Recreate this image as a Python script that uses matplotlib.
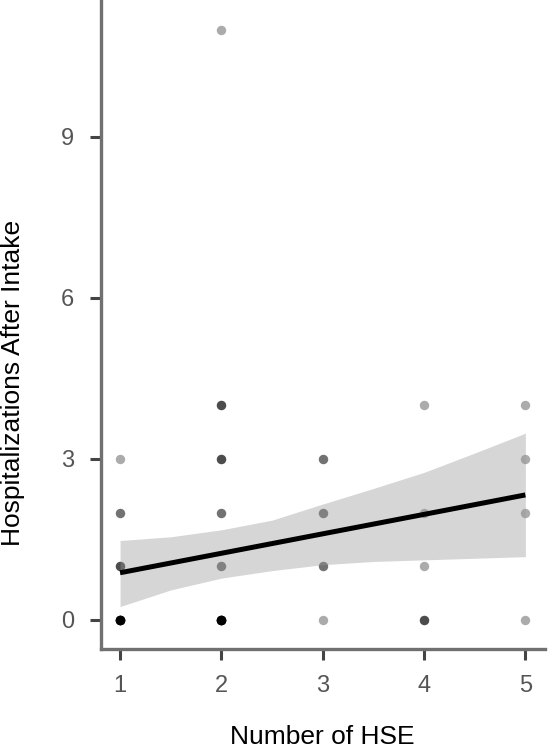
import matplotlib
matplotlib.use("Agg")
import matplotlib.pyplot as plt
import numpy as np

plt.rcParams['font.family'] = ['Liberation Sans', 'DejaVu Sans']

# Data: (HSE, hospitalizations) pairs and how many subjects share each pair
hse_x   = [1, 1, 1, 1,  2, 2, 2, 2, 2, 2,  3, 3, 3, 3,  4, 4, 4, 4,  5, 5, 5, 5]
hosp_y  = [0, 1, 2, 3,  0, 1, 2, 3, 4, 11, 0, 1, 2, 3,  0, 1, 2, 4,  0, 2, 3, 4]
n_cases = [12, 3, 2, 1, 12, 2, 2, 3, 3, 1,  1, 2, 2, 2,  3, 1, 1, 1,  1, 1, 1, 1]

# Linear fit and its confidence band
fit_x = [1, 5]
fit_y = [0.88, 2.33]
band_x     = [1, 1.5, 2, 2.5, 3, 3.5, 4, 4.5, 5]
band_lower = [0.25, 0.56, 0.78, 0.92, 1.03, 1.09, 1.12, 1.15, 1.18]
band_upper = [1.48, 1.55, 1.68, 1.86, 2.16, 2.45, 2.75, 3.11, 3.48]

xs = np.repeat(hse_x, n_cases)
ys = np.repeat(hosp_y, n_cases)

fig = plt.figure(figsize=(5.48, 7.5), dpi=100)
ax = fig.add_axes([0.1834, 0.1347, 0.811, 0.8653])

ax.scatter(xs, ys, s=46, color='black', alpha=0.33, linewidths=0, zorder=2)
ax.fill_between(band_x, band_lower, band_upper, color='#999999', alpha=0.4,
                linewidth=0, zorder=3)
ax.plot(fit_x, fit_y, color='black', linewidth=3.6, solid_capstyle='butt', zorder=4)

ax.set_xlim(0.807, 5.193)
ax.set_ylim(-0.54, 11.55)
ax.set_xticks([1, 2, 3, 4, 5])
ax.set_yticks([0, 3, 6, 9])

for side in ['top', 'right']:
    ax.spines[side].set_visible(False)
for side in ['left', 'bottom']:
    ax.spines[side].set_linewidth(2.4)
    ax.spines[side].set_color('#707070')

ax.tick_params(axis='both', length=8, width=2.2, color='#444444',
               labelsize=17, labelcolor='#555555', pad=11)

ax.set_xlabel("Number of HSE", fontsize=19, color='black', va='baseline')
ax.xaxis.set_label_coords(0.5, -0.146)
ax.set_ylabel("Hospitalizations After Intake", fontsize=19, color='black',
              va='center', ha='center')
ax.yaxis.set_label_coords(-0.198, 0.41)

fig.savefig("out.png", dpi=100)
